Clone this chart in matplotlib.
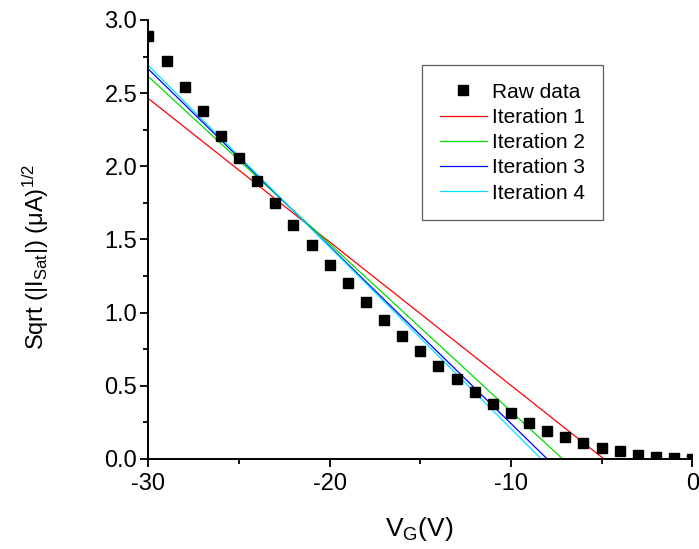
import matplotlib
matplotlib.use('Agg')
import matplotlib.pyplot as plt
from matplotlib.ticker import MultipleLocator, FormatStrFormatter

plt.rcParams['font.family'] = ['Liberation Sans', 'DejaVu Sans']
plt.rcParams['mathtext.default'] = 'regular'
plt.rcParams['axes.unicode_minus'] = False

# Raw data: gate voltage (V) vs sqrt(|I_sat|) (uA^1/2)
vg = [-30, -29, -28, -27, -26, -25, -24, -23, -22, -21, -20,
      -19, -18, -17, -16, -15, -14, -13, -12, -11, -10,
      -9, -8, -7, -6, -5, -4, -3, -2, -1, 0]
sqrt_isat = [2.89, 2.72, 2.545, 2.38, 2.21, 2.055, 1.90, 1.75, 1.60, 1.46, 1.325,
             1.20, 1.07, 0.95, 0.84, 0.735, 0.635, 0.545, 0.46, 0.378, 0.312,
             0.248, 0.194, 0.148, 0.109, 0.077, 0.055, 0.03, 0.016, 0.008, 0.003]

# Linear fits: value at V_G = -30 and x-intercept (threshold voltage)
fit_labels = ['Iteration 1', 'Iteration 2', 'Iteration 3', 'Iteration 4']
fit_colors = ['#ff0000', '#00dd00', '#0000ff', '#00e5ff']
fit_start = [2.463, 2.613, 2.664, 2.689]
fit_vth = [-4.87, -7.15, -8.0, -8.33]

fig = plt.figure(figsize=(6.99, 5.49), dpi=100)
ax = fig.add_axes([0.2123, 0.164, 0.778, 0.7996])

ax.plot(vg, sqrt_isat, 's', color='black', markersize=6.8, label='Raw data', zorder=3)
for lab, col, y0, vth in zip(fit_labels, fit_colors, fit_start, fit_vth):
    ax.plot([-30, vth], [y0, 0], '-', color=col, lw=0.9, label=lab)

ax.set_xlim(-30, 0)
ax.set_ylim(0, 3.0)
ax.xaxis.set_major_locator(MultipleLocator(10))
ax.xaxis.set_minor_locator(MultipleLocator(5))
ax.yaxis.set_major_locator(MultipleLocator(0.5))
ax.yaxis.set_minor_locator(MultipleLocator(0.25))
ax.yaxis.set_major_formatter(FormatStrFormatter('%.1f'))

for s in ['top', 'right']:
    ax.spines[s].set_visible(False)
for s in ['left', 'bottom']:
    ax.spines[s].set_linewidth(1.4)

ax.tick_params(which='major', direction='out', length=6, width=1.3, labelsize=17)
ax.tick_params(axis='y', which='major', pad=2)
ax.tick_params(axis='x', which='major', pad=4)
ax.tick_params(which='minor', direction='out', length=3.5, width=1.3)

ax.set_xlabel('V$_G$(V)', fontsize=19)
ax.xaxis.set_label_coords(0.4975, -0.127)
ax.xaxis.label.set_va('top')
ax.set_ylabel('Sqrt (|I$_{Sat}$|) (μA)$^{1/2}$', fontsize=17)
ax.yaxis.set_label_coords(-0.18, 0.46)

leg = ax.legend(loc='upper left', bbox_to_anchor=(0.503, 0.8975), fontsize=15,
                frameon=True, fancybox=False, edgecolor='#333333',
                handlelength=2.26, handletextpad=0.27, borderpad=0.85,
                labelspacing=0.3, borderaxespad=0, markerscale=1.0)
leg.get_frame().set_linewidth(0.9)

fig.savefig('out.png', dpi=100)
